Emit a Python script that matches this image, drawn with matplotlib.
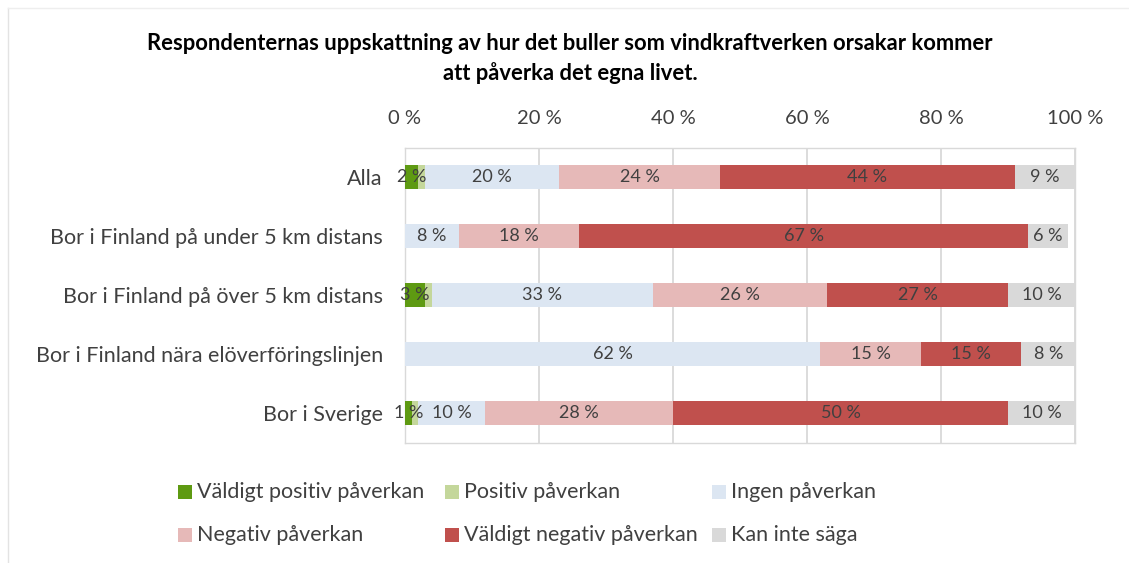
import matplotlib
matplotlib.use("Agg")
import matplotlib.pyplot as plt
from matplotlib.patches import Rectangle
from matplotlib.lines import Line2D
import numpy as np

plt.rcParams['font.family'] = ['Lato', 'DejaVu Sans']

title = ("Respondenternas uppskattning av hur det buller som vindkraftverken orsakar kommer\n"
         "att påverka det egna livet.")

categories = [
    "Alla",
    "Bor i Finland på under 5 km distans",
    "Bor i Finland på över 5 km distans",
    "Bor i Finland nära elöverföringslinjen",
    "Bor i Sverige",
]

series_names = [
    "Väldigt positiv påverkan",
    "Positiv påverkan",
    "Ingen påverkan",
    "Negativ påverkan",
    "Väldigt negativ påverkan",
    "Kan inte säga",
]

# percentages per category, one list per series
very_positive = [2, 0, 3, 0, 1]
positive = [1, 0, 1, 0, 1]
no_effect = [20, 8, 33, 62, 10]
negative = [24, 18, 26, 15, 28]
very_negative = [44, 67, 27, 15, 50]
cannot_say = [9, 6, 10, 8, 10]

# which series carry printed value labels (the thin "Positiv" slices are unlabeled)
show_label = [True, False, True, True, True, True]

colors = ["#5E9A12", "#C4D79B", "#DCE6F2", "#E6B9B8", "#C0504D", "#D9D9D9"]

series = [very_positive, positive, no_effect, negative, very_negative, cannot_say]

W, H = 1129, 563
fig = plt.figure(figsize=(W / 100, H / 100), dpi=100)
fig.patch.set_facecolor("white")

ax = fig.add_axes([405 / W, 1 - 442.5 / H, 670 / W, 295 / H])

y = np.arange(len(categories))
left = np.zeros(len(categories))
for vals, col, lab, name in zip(series, colors, show_label, series_names):
    vals = np.array(vals, dtype=float)
    ax.barh(y, vals, left=left, height=0.39, color=col, label=name, zorder=3)
    if lab:
        for yi, l, v in zip(y, left, vals):
            if v > 0:
                ax.text(l + v / 2, yi, f"{int(v)} %", ha="center", va="center",
                        fontsize=13, color="#404040", zorder=4)
    left += vals

ax.set_xlim(0, 100)
ax.set_ylim(len(categories) - 0.5, -0.5)
ax.set_xticks(np.arange(0, 101, 20))
ax.set_xticklabels([f"{t} %" for t in range(0, 101, 20)])
ax.xaxis.tick_top()
ax.tick_params(axis="x", length=0, pad=15, labelsize=14.5, labelcolor="#404040")
ax.set_yticks(y)
ax.set_yticklabels(categories)
ax.tick_params(axis="y", length=0, pad=16, labelsize=15.5, labelcolor="#404040")
ax.grid(axis="x", color="#D9D9D9", linewidth=1.3, zorder=0)
for s in ax.spines.values():
    s.set_color("#D9D9D9")
    s.set_linewidth(1.0)

fig.text(570 / W, 1 - 58.5 / H, title, ha="center", va="center", fontsize=15.8,
         fontweight="bold", color="black", linespacing=1.47)

# legend, laid out in two rows of three
legend_cols = [185, 452, 719]
legend_rows = [492, 535]
for i, (col, name) in enumerate(zip(colors, series_names)):
    lx = legend_cols[i % 3]
    ly = legend_rows[i // 3]
    fig.patches.append(Rectangle(((lx - 7) / W, 1 - (ly + 7) / H), 14 / W, 14 / H,
                                 transform=fig.transFigure, facecolor=col,
                                 edgecolor="none"))
    fig.text((lx + 12) / W, 1 - ly / H, name, ha="left", va="center",
             fontsize=15.5, color="#404040")

# outer frame edges
fig.lines.append(Line2D([8 / W, 8 / W], [0, 1 - 8 / H], transform=fig.transFigure,
                        color="#E3E3E3", linewidth=1))
fig.lines.append(Line2D([8 / W, 1], [1 - 8 / H, 1 - 8 / H], transform=fig.transFigure,
                        color="#EEEEEE", linewidth=1))

fig.savefig("out.png", dpi=100)
